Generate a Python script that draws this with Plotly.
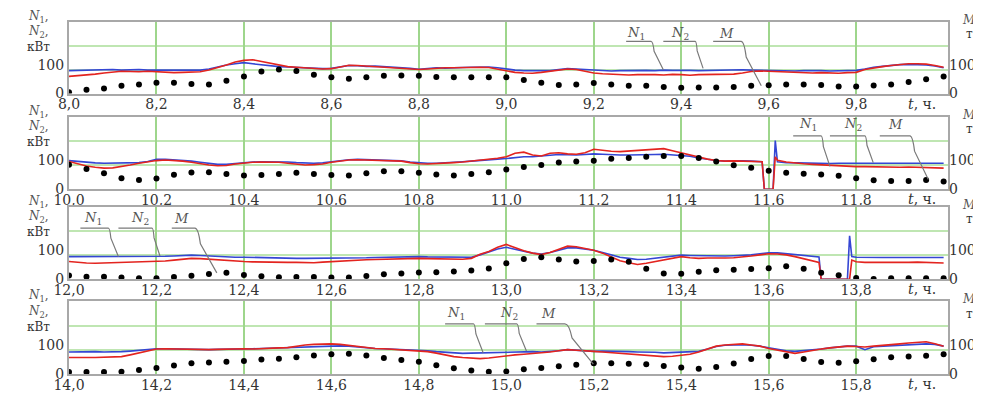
import plotly.graph_objects as go

# ---------------- DATA ----------------
N_STEP = 0.02   # sampling step of N1, N2 (h)
M_STEP = 0.04   # sampling step of M (h)

panel_starts = [8.0, 10.0, 12.0, 14.0]

p1_ticks = ["8,0", "8,2", "8,4", "8,6", "8,8", "9,0", "9,2", "9,4", "9,6", "9,8"]
p2_ticks = ["10,0", "10,2", "10,4", "10,6", "10,8", "11,0", "11,2", "11,4", "11,6", "11,8"]
p3_ticks = ["12,0", "12,2", "12,4", "12,6", "12,8", "13,0", "13,2", "13,4", "13,6", "13,8"]
p4_ticks = ["14,0", "14,2", "14,4", "14,6", "14,8", "15,0", "15,2", "15,4", "15,6", "15,8"]

# Panel 1: 8.0 - 10.0 h
p1_n1 = [60, 62, 65, 68, 72, 76, 78, 77, 76, 78,
         76, 74, 73, 74, 75, 76, 82, 90, 100, 110,
         116, 118, 112, 104, 98, 94, 92, 90, 87, 86,
         87, 92, 99, 98, 96, 95, 93, 91, 90, 86,
         84, 86, 89, 90, 90, 91, 92, 92, 91, 86,
         80, 74, 72, 71, 74, 78, 82, 86, 84, 78,
         72, 69, 67, 66, 65, 66, 67, 66, 65, 67,
         66, 64, 66, 67, 66, 67, 68, 72, 77, 79,
         78, 76, 74, 73, 72, 72, 73, 72, 71, 73,
         74, 84, 90, 94, 98, 102, 104, 104, 103, 98, 92]
p1_n2 = [80, 81, 82, 81, 83, 84, 82, 83, 84, 82,
         82, 80, 81, 80, 80, 82, 86, 93, 100, 104,
         108, 104, 100, 97, 94, 93, 91, 89, 88, 87,
         88, 93, 98, 97, 95, 96, 94, 93, 92, 88,
         85, 88, 90, 89, 91, 91, 92, 93, 93, 90,
         85, 82, 80, 79, 80, 80, 84, 87, 86, 84,
         82, 80, 79, 80, 81, 80, 81, 80, 82, 81,
         82, 81, 80, 81, 82, 81, 82, 83, 82, 81,
         80, 81, 80, 79, 80, 81, 80, 79, 80, 80,
         81, 86, 92, 95, 99, 101, 102, 101, 100, 96, 90]
p1_m = [5, 13, 18, 27, 32, 38, 38, 33, 32, 45,
        60, 77, 84, 79, 66, 57, 52, 57, 62, 63,
        62, 58, 57, 57, 57, 57, 47, 38, 30, 32,
        37, 32, 27, 27, 23, 20, 21, 21, 23, 27,
        29, 32, 32, 30, 25, 25, 28, 32, 40, 50, 60]

# Panel 2: 10.0 - 12.0 h (with a short drop-out near 11.6 h)
p2_n1_pre = [96, 88, 80, 76, 73, 74, 78, 84, 90, 95,
             99, 101, 100, 97, 93, 88, 84, 81, 82, 87,
             91, 93, 94, 94, 93, 90, 86, 84, 85, 87,
             93, 98, 101, 102, 101, 100, 99, 98, 97, 92,
             88, 87, 88, 90, 92, 94, 97, 100, 104, 107,
             112, 124, 128, 118, 115, 124, 126, 122, 121, 126,
             138, 134, 131, 130, 132, 134, 135, 138, 140, 133,
             126, 118, 110, 104, 99, 97, 98, 97, 96, 96]
p2_n2_pre = [99, 96, 92, 91, 90, 90, 90, 91, 92, 96,
             103, 103, 101, 100, 97, 93, 90, 86, 86, 89,
             92, 94, 95, 95, 95, 94, 92, 90, 90, 91,
             95, 99, 102, 103, 102, 101, 100, 99, 98, 94,
             91, 90, 90, 91, 93, 95, 97, 100, 103, 104,
             106, 110, 112, 112, 114, 118, 120, 119, 118, 120,
             122, 121, 119, 118, 118, 118, 118, 120, 121, 119,
             118, 114, 108, 103, 99, 97, 98, 98, 97, 96]
p2_glitch_t = [11.585, 11.59, 11.61, 11.615]
p2_n1_glitch = [95, 0, 0, 112]
p2_n2_glitch = [95, 0, 0, 168]
p2_n1_post = [100, 94, 90, 88, 86, 84, 82, 80, 79, 78,
              78, 77, 78, 77, 76, 77, 76, 74, 73, 73]
p2_n2_post = [95, 92, 91, 91, 90, 90, 89, 90, 90, 91,
              90, 90, 89, 90, 90, 91, 90, 89, 90, 90]
p2_m = [85, 70, 55, 38, 32, 37, 50, 58, 59, 53,
        48, 49, 53, 57, 53, 49, 48, 55, 62, 62,
        57, 51, 48, 53, 59, 68, 77, 84, 92, 96,
        98, 105, 108, 112, 115, 115, 108, 96, 83, 74,
        64, 57, 54, 51, 47, 38, 31, 29, 29, 32, 27]

# Panel 3: 12.0 - 14.0 h (with a drop-out near 13.75 h)
p3_n1_pre = [61, 58, 56, 55, 56, 57, 58, 58, 59, 59,
             61, 63, 66, 69, 72, 71, 69, 66, 63, 62,
             61, 60, 59, 59, 58, 58, 58, 57, 57, 59,
             61, 63, 65, 66, 67, 68, 69, 70, 71, 72,
             72, 71, 70, 70, 69, 69, 72, 86, 96, 110,
             120, 108, 98, 90, 85, 92, 104, 114, 112, 106,
             100, 90, 78, 64, 57, 51, 55, 61, 68, 74,
             78, 74, 72, 73, 72, 73, 74, 76, 80, 84,
             88, 87, 84, 78, 70, 62]
p3_n2_pre = [78, 78, 79, 78, 78, 77, 78, 79, 78, 78,
             78, 79, 80, 82, 83, 82, 80, 78, 77, 76,
             76, 75, 74, 74, 73, 73, 72, 72, 72, 72,
             72, 73, 73, 74, 74, 75, 76, 76, 77, 78,
             78, 77, 77, 76, 76, 76, 76, 84, 94, 104,
             110, 103, 95, 90, 87, 92, 100, 108, 108, 104,
             100, 92, 84, 76, 72, 68, 69, 72, 76, 80,
             83, 82, 81, 80, 81, 80, 81, 82, 84, 88,
             91, 91, 88, 85, 81, 77]
p3_glitch_t = [13.715, 13.72, 13.78, 13.785, 13.79]
p3_n1_glitch = [58, 0, 0, 0, 66]
p3_n2_glitch = [77, 0, 0, 150, 78]
p3_n1_post = [60, 58, 57, 58, 58, 57, 58, 59, 58, 57, 56]
p3_n2_post = [76, 75, 76, 75, 75, 76, 75, 75, 76, 75, 75]
p3_m = [13, 9, 9, 6, 3, 3, 8, 12, 18, 22,
        15, 10, 7, 8, 8, 6, 6, 11, 17, 20,
        23, 24, 27, 30, 37, 55, 70, 76, 68, 61,
        63, 68, 60, 36, 20, 19, 26, 31, 33, 35,
        38, 45, 36, 22, 14, 4, 1, 3, 3, 3, 3]

# Panel 4: 14.0 - 16.0 h
p4_n1 = [57, 56, 57, 57, 58, 58, 60, 66, 73, 80,
         86, 87, 86, 85, 85, 84, 84, 85, 86, 86,
         87, 86, 88, 88, 90, 91, 96, 100, 102, 103,
         104, 102, 98, 94, 90, 88, 87, 85, 83, 81,
         80, 77, 72, 66, 60, 57, 55, 53, 55, 59,
         63, 66, 68, 70, 74, 76, 80, 84, 82, 79,
         78, 76, 74, 71, 69, 67, 64, 62, 60, 61,
         64, 68, 76, 86, 96, 100, 103, 104, 100, 96,
         88, 82, 76, 71, 76, 82, 86, 90, 94, 96,
         95, 93, 96, 98, 100, 104, 107, 110, 111, 104, 96]
p4_n2 = [76, 77, 78, 77, 76, 76, 77, 79, 82, 85,
         87, 87, 86, 86, 85, 84, 84, 85, 85, 86,
         87, 87, 88, 89, 90, 91, 92, 93, 94, 96,
         98, 97, 96, 93, 90, 88, 87, 86, 84, 82,
         82, 80, 77, 75, 72, 71, 72, 73, 74, 75,
         76, 76, 77, 77, 76, 77, 80, 84, 82, 79,
         78, 79, 79, 78, 77, 76, 76, 75, 73, 74,
         75, 76, 78, 86, 95, 99, 101, 101, 99, 96,
         90, 84, 80, 78, 80, 82, 86, 90, 94, 96,
         96, 84, 94, 96, 97, 98, 100, 102, 104, 102, 96]
p4_m = [7, 7, 7, 8, 14, 21, 29, 37, 40, 42,
        45, 50, 53, 58, 64, 68, 70, 64, 55, 48,
        42, 30, 20, 12, 8, 9, 16, 21, 27, 32,
        37, 37, 35, 34, 28, 22, 18, 24, 36, 52,
        62, 62, 52, 41, 39, 44, 51, 58, 60, 63, 68]


def grid(start, count, step):
    return [round(start + i * step, 4) for i in range(count)]


panels = [
    dict(start=8.0, ticks=p1_ticks,
         n_t=grid(8.0, 101, N_STEP), n1=p1_n1, n2=p1_n2, m=p1_m),
    dict(start=10.0, ticks=p2_ticks,
         n_t=grid(10.0, 80, N_STEP) + p2_glitch_t + grid(11.62, 20, N_STEP),
         n1=p2_n1_pre + p2_n1_glitch + p2_n1_post,
         n2=p2_n2_pre + p2_n2_glitch + p2_n2_post, m=p2_m),
    dict(start=12.0, ticks=p3_ticks,
         n_t=grid(12.0, 86, N_STEP) + p3_glitch_t + grid(13.80, 11, N_STEP),
         n1=p3_n1_pre + p3_n1_glitch + p3_n1_post,
         n2=p3_n2_pre + p3_n2_glitch + p3_n2_post, m=p3_m),
    dict(start=14.0, ticks=p4_ticks,
         n_t=grid(14.0, 101, N_STEP), n1=p4_n1, n2=p4_n2, m=p4_m),
]
for p in panels:
    assert len(p["n_t"]) == len(p["n1"]) == len(p["n2"]), (p["start"], len(p["n_t"]), len(p["n1"]), len(p["n2"]))
    assert len(p["m"]) == 51, (p["start"], len(p["m"]))
    p["m_t"] = grid(p["start"], 51, M_STEP)

# leader-line callouts (label x, label y, underline x0, x1, underline y, end x, end y) per panel
callouts = [
    [("N1", 9.297, 210, 9.274, 9.331, 182, 9.359, 83),
     ("N2", 9.397, 210, 9.359, 9.432, 182, 9.450, 88),
     ("M", 9.503, 210, 9.473, 9.537, 182, 9.583, 27)],
    [("N1", 11.690, 222, 11.656, 11.720, 184, 11.740, 79),
     ("N2", 11.793, 222, 11.740, 11.820, 184, 11.839, 92),
     ("M", 11.891, 222, 11.854, 11.923, 184, 11.965, 34)],
    [("N1", 12.056, 211, 12.026, 12.090, 176, 12.113, 78),
     ("N2", 12.163, 211, 12.113, 12.190, 176, 12.208, 80),
     ("M", 12.258, 211, 12.235, 12.288, 176, 12.338, 22)],
    [("N1", 14.886, 210, 14.860, 14.925, 173, 14.947, 73),
     ("N2", 15.005, 210, 14.951, 15.024, 173, 15.046, 79),
     ("M", 15.096, 210, 15.069, 15.134, 173, 15.199, 34)],
]

# ---------------- STYLE ----------------
domains = [[0.7967, 1.0], [0.5247, 0.7308], [0.2692, 0.4753], [0.0, 0.206]]
Y_RANGE = [0, 250]
RED = "#e3241f"
BLUE = "#3446d4"
FRAME = "#a8a8a8"
VGRID = "#9ed68c"
HGRID = "#bfe6b2"
TXT = "#333333"
tick_font = dict(family="DejaVu Serif", size=14, color=TXT)
label_font = dict(family="DejaVu Serif", size=12, color="#555555")
unit_font = dict(family="DejaVu Serif", size=12, color=TXT)

fig = go.Figure()
layout = dict(
    width=981, height=397,
    margin=dict(l=61, r=41, t=14, b=19),
    paper_bgcolor="white", plot_bgcolor="white",
    showlegend=False,
    annotations=[], shapes=[],
)

names = {"N1": "<i>N</i><sub>1</sub>", "N2": "<i>N</i><sub>2</sub>", "M": "<i>M</i>"}

for i, p in enumerate(panels):
    k = i + 1
    kr = i + 5
    xs = "" if k == 1 else str(k)
    xa, ya, yr = f"x{xs}", f"y{xs}", f"y{kr}"
    tickvals = [float(t.replace(",", ".")) for t in p["ticks"]]

    layout[f"xaxis{xs}"] = dict(
        domain=[0, 1], range=[p["start"], p["start"] + 2.01], anchor=ya,
        tickmode="array", tickvals=tickvals, ticktext=p["ticks"],
        showgrid=True, gridcolor=VGRID, gridwidth=2,
        showline=True, mirror=True, linecolor=FRAME, linewidth=2,
        zeroline=False, ticks="", tickfont=tick_font, ticklabelstandoff=-3,
    )
    layout[f"yaxis{xs}"] = dict(
        domain=domains[i], range=Y_RANGE, anchor=xa,
        tickmode="array", tickvals=[0, 100], ticktext=["0", "100"],
        showgrid=False,
        minor=dict(tickmode="array", tickvals=[250 / 3, 500 / 3], showgrid=True,
                   gridcolor=HGRID, gridwidth=1.5, ticks=""),
        showline=True, mirror=True, linecolor=FRAME, linewidth=2,
        zeroline=False, ticks="", tickfont=tick_font,
    )
    layout[f"yaxis{kr}"] = dict(
        overlaying=ya, side="right", anchor=xa, range=Y_RANGE,
        tickmode="array", tickvals=[0, 100], ticktext=["0", "100"],
        showgrid=False, showline=False, zeroline=False, ticks="",
        tickfont=tick_font,
    )

    fig.add_trace(go.Scatter(x=p["n_t"], y=p["n2"], xaxis=xa, yaxis=ya, mode="lines",
                             line=dict(color=BLUE, width=1.6), name="N2"))
    fig.add_trace(go.Scatter(x=p["n_t"], y=p["n1"], xaxis=xa, yaxis=ya, mode="lines",
                             line=dict(color=RED, width=1.6), name="N1"))
    fig.add_trace(go.Scatter(x=p["m_t"], y=p["m"], xaxis=xa, yaxis=yr, mode="markers",
                             marker=dict(color="black", size=6), name="M"))

    # axis captions
    dom = f"y{xs} domain"
    layout["annotations"] += [
        dict(text="<i>N</i><sub>1</sub>,", xref="paper", yref=dom, x=-0.035, y=1.07,
             showarrow=False, font=label_font, xanchor="center", yanchor="middle"),
        dict(text="<i>N</i><sub>2</sub>,", xref="paper", yref=dom, x=-0.035, y=0.86,
             showarrow=False, font=label_font, xanchor="center", yanchor="middle"),
        dict(text="кВт", xref="paper", yref=dom, x=-0.035, y=0.655,
             showarrow=False, font=unit_font, xanchor="center", yanchor="middle"),
        dict(text="<i>M</i>,", xref="paper", yref=dom, x=1.014, y=1.03,
             showarrow=False, font=label_font, xanchor="left", yanchor="middle"),
        dict(text="т", xref="paper", yref=dom, x=1.024, y=0.83,
             showarrow=False, font=unit_font, xanchor="center", yanchor="middle"),
        dict(text="<i>t</i>, ч.", xref=xa, yref=dom, x=p["start"] + 1.95, y=0,
             showarrow=False, font=tick_font, xanchor="center", yanchor="top", yshift=0),
    ]

    for (nm, lx, ly, ux0, ux1, uy, ex, ey) in callouts[i]:
        layout["annotations"].append(
            dict(text=names[nm], xref=xa, yref=ya, x=lx, y=ly, showarrow=False,
                 font=dict(family="DejaVu Serif", size=13, color="#555555"),
                 xanchor="center", yanchor="middle"))
        mx = ux1 + 0.25 * (ex - ux1)
        my = uy - 0.35 * (uy - ey)
        path = f"M {ux0},{uy} L {ux1},{uy} Q {ux1 + 0.6 * (mx - ux1)},{uy} {mx},{my} L {ex},{ey}"
        layout["shapes"].append(
            dict(type="path", path=path, xref=xa, yref=ya,
                 line=dict(color="#7a7a7a", width=1.2)))

fig.update_layout(**layout)
fig.write_html("out.html")
